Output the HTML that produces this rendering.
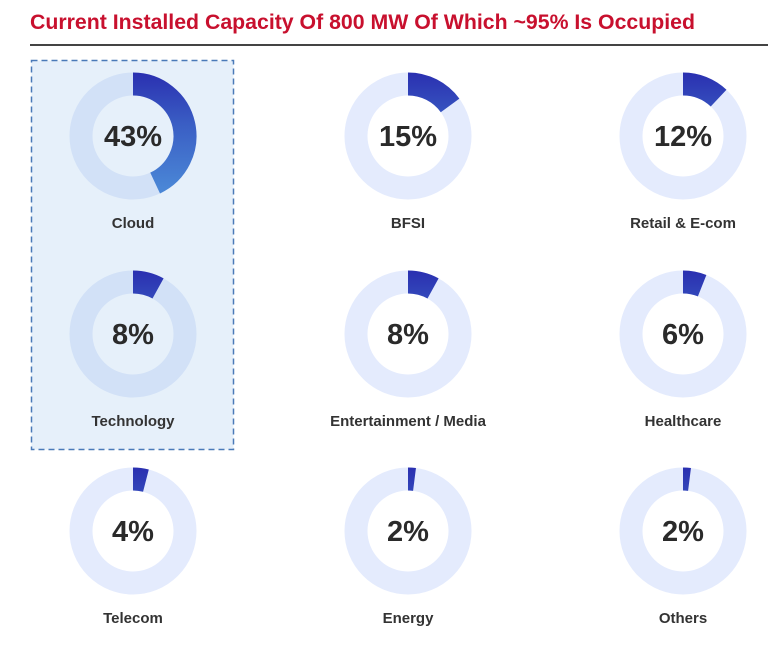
<!DOCTYPE html>
<html><head><meta charset="utf-8"><style>
body{margin:0;background:#fff;width:768px;height:647px;overflow:hidden;font-family:"Liberation Sans",sans-serif;}
svg{display:block}
</style></head><body>
<svg id="chart" width="768" height="647">
<defs id="defs"></defs>
<text x="30" y="29" font-size="21" font-weight="bold" fill="#c8102e" textLength="665" lengthAdjust="spacingAndGlyphs">Current Installed Capacity Of 800 MW Of Which ~95% Is Occupied</text>
<line x1="30" y1="45" x2="768" y2="45" stroke="#444" stroke-width="2"/>
<rect x="31.5" y="60.5" width="202" height="389" fill="#e6f0fa" stroke="#4a7ab8" stroke-width="1.5" stroke-dasharray="6,4"/>
<g id="donuts"></g>
</svg>
<script>
const categories=["Cloud","BFSI","Retail & E-com","Technology","Entertainment / Media","Healthcare","Telecom","Energy","Others"];
const values=[43,15,12,8,8,6,4,2,2];
const highlighted=["Cloud","Technology"];
const g=document.getElementById('donuts');
const defs=document.getElementById('defs');
const NS='http://www.w3.org/2000/svg';
const colX=[133,408,683],rowY=[136,334,531];
const R=52,W=23;
function arc(cx,cy,r,pct){
  const a=pct/100*2*Math.PI;
  const x=cx+r*Math.sin(a),y=cy-r*Math.cos(a);
  return `M${cx} ${cy-r} A${r} ${r} 0 ${pct>50?1:0} 1 ${x} ${y}`;
}
categories.forEach((c,i)=>{
  const cx=colX[i%3],cy=rowY[Math.floor(i/3)];
  const hl=highlighted.includes(c);
  const lg=document.createElementNS(NS,'linearGradient');
  lg.setAttribute('id','g'+i);lg.setAttribute('gradientUnits','userSpaceOnUse');
  lg.setAttribute('x1',cx);lg.setAttribute('y1',cy-R-12);lg.setAttribute('x2',cx);lg.setAttribute('y2',cy+R);
  lg.innerHTML='<stop offset="0" stop-color="#2a2fb0"/><stop offset="0.45" stop-color="#3a5ec4"/><stop offset="1" stop-color="#4a86d6"/>';
  defs.appendChild(lg);
  const grp=document.createElementNS(NS,'g');
  
  
  const t=document.createElementNS(NS,'circle');
  t.setAttribute('cx',cx);t.setAttribute('cy',cy);t.setAttribute('r',R);
  t.setAttribute('fill','none');t.setAttribute('stroke',hl?'#d2e1f7':'#e4ebfd');t.setAttribute('stroke-width',W);
  
  
  grp.appendChild(t);
  const p=document.createElementNS(NS,'path');
  p.setAttribute('d',arc(cx,cy,R,values[i]));
  p.setAttribute('fill','none');p.setAttribute('stroke','url(#g'+i+')');p.setAttribute('stroke-width',W);
  
  
  grp.appendChild(p);
  const v=document.createElementNS(NS,'text');
  v.setAttribute('x',cx);v.setAttribute('y',cy+10);v.setAttribute('text-anchor','middle');
  v.setAttribute('font-size','29');v.setAttribute('font-weight','bold');v.setAttribute('fill','#2a2a2a');
  v.textContent=values[i]+'%';
  
  
  grp.appendChild(v);
  const l=document.createElementNS(NS,'text');
  l.setAttribute('x',cx);l.setAttribute('y',cy+92);l.setAttribute('text-anchor','middle');
  l.setAttribute('font-size','15');l.setAttribute('font-weight','bold');l.setAttribute('fill','#333');
  l.textContent=c;
  
  
  grp.appendChild(l);
  g.appendChild(grp);
});
</script>
</body></html>
